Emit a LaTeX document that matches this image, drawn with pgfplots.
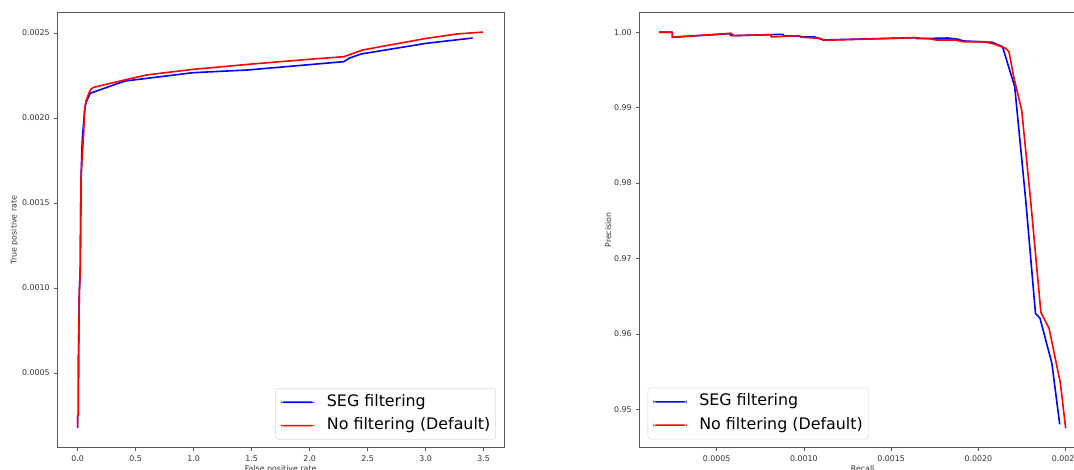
\documentclass[border=0pt]{standalone}
\usepackage{pgfplots}
\pgfplotsset{compat=1.18}
\usepackage{fontspec}
\setmainfont{DejaVu Sans}

% ROC curve: false positive rate vs. true positive rate
\pgfplotstableread{
fpr       tpr
0         0.000179
0         0.000245
6e-8      0.000255
8e-8      0.000600
1.5e-7    0.000980
2.3e-7    0.001106
2.9e-7    0.001636
3.8e-7    0.001832
4.3e-7    0.001900
6.4e-7    0.002067
7.5e-7    0.002096
1.09e-6   0.002146
3.53e-6   0.002205
4.1e-6    0.002218
9.93e-6   0.002267
1.467e-5  0.002283
2.295e-5  0.002332
2.34e-5   0.002352
2.443e-5  0.002377
3.006e-5  0.002440
3.405e-5  0.002471
}\rocseg
\pgfplotstableread{
fpr       tpr
0         0.000179
0         0.000245
6e-8      0.000255
8e-8      0.000600
1.5e-7    0.000980
2.3e-7    0.001106
2.9e-7    0.001636
3.8e-7    0.001754
5.2e-7    0.001911
6.0e-7    0.002048
7.5e-7    0.002106
1.03e-6   0.002155
1.15e-6   0.002169
1.38e-6   0.002181
3.67e-6   0.002218
5.97e-6   0.002254
1.0e-5    0.002287
1.5e-5    0.002318
2.0e-5    0.002346
2.295e-5  0.002361
2.458e-5  0.002401
3.006e-5  0.002469
3.272e-5  0.002495
3.494e-5  0.002506
}\rocnofilter

% Precision-recall curve
\pgfplotstableread{
rec       prec
0.000170  1.00000
0.000246  1.00000
0.000246  0.99934
0.000573  0.99981
0.000583  0.99955
0.000880  0.99973
0.000886  0.99951
0.000970  0.99951
0.000984  0.99938
0.001062  0.99938
0.001110  0.99898
0.001639  0.99928
0.001649  0.99915
0.001824  0.99924
0.001883  0.99907
0.001913  0.99885
0.002079  0.99867
0.002138  0.99809
0.002208  0.99279
0.002271  0.97776
0.002327  0.96273
0.002353  0.96207
0.002421  0.95610
0.002466  0.94801
}\prseg
\pgfplotstableread{
rec       prec
0.000170  1.00000
0.000246  1.00000
0.000246  0.99934
0.000583  0.99987
0.000599  0.99955
0.000808  0.99968
0.000813  0.99938
0.000974  0.99955
0.000984  0.99934
0.001091  0.99920
0.001121  0.99894
0.001639  0.99928
0.001727  0.99911
0.001756  0.99898
0.001864  0.99898
0.001913  0.99875
0.002030  0.99875
0.002089  0.99845
0.002156  0.99788
0.002175  0.99743
0.002204  0.99390
0.002248  0.98969
0.002299  0.97776
0.002358  0.96286
0.002405  0.96074
0.002470  0.95345
0.002500  0.94748
}\prnofilter

\newcommand\smallfont{\fontsize{5.9}{7}\selectfont}

\pgfplotsset{
  panel/.style={
    scale only axis, width=335pt, height=326.55pt, anchor=south west,
    axis line style={draw=black!65, line width=0.6pt},
    tick align=outside, tick pos=left, major tick length=2.2pt,
    tick style={draw=black!65, line width=0.5pt},
    tick label style={font=\smallfont, text=black!80},
    /pgf/number format/assume math mode=true,
    legend cell align=left,
    legend style={draw=black!15, rounded corners=2pt, fill=white,
      font=\fontsize{11.9}{14}\selectfont, inner xsep=4pt, inner ysep=4.4pt,
      row sep=5.5pt, column sep=9.5pt,
      nodes={inner sep=0pt, text height=9pt, text depth=3pt},
      cells={anchor=west}},
  },
  % legend samples: short bars in the series colour
  seg key/.style={legend image code/.code={\fill[blue, draw=none] (0pt,-0.6pt) rectangle (25pt,0.6pt);}},
  def key/.style={legend image code/.code={\fill[red, draw=none] (0pt,-0.6pt) rectangle (25pt,0.6pt);}},
}

\begin{document}
\begin{tikzpicture}
\useasboundingbox (0,0) rectangle (805.5pt,351.75pt);
\clip (0,0) rectangle (805.5pt,351.75pt);

\begin{axis}[panel, at={(42.98pt,15.98pt)},
  xmin=-0.175e-5, xmax=3.675e-5, ymin=0.0000606, ymax=0.0026224,
  xtick={0,0.5e-5,1e-5,1.5e-5,2e-5,2.5e-5,3e-5,3.5e-5},
  xticklabels={0.0,0.5,1.0,1.5,2.0,2.5,3.0,3.5},
  scaled x ticks=false,
  ytick={0.0005,0.001,0.0015,0.002,0.0025}, scaled y ticks=false,
  yticklabel style={/pgf/number format/fixed, /pgf/number format/fixed zerofill, /pgf/number format/precision=4},
  xlabel={False positive rate}, ylabel={True positive rate},
  every axis x label/.style={at={([yshift=-13.3pt]axis description cs:0.5,0)}, anchor=north, inner sep=0pt, font=\smallfont, text=black!80},
  every axis y label/.style={at={([xshift=-32.1pt]axis description cs:0,0.5)}, anchor=center, rotate=90, inner sep=0pt, font=\smallfont, text=black!80},
  legend style={at={([xshift=-6pt,yshift=6pt]axis description cs:1,0)}, anchor=south east},
]
\addplot[blue, line width=1.2pt, line join=round, seg key] table[x=fpr, y=tpr] {\rocseg};
\addlegendentry{SEG filtering}
\addplot[red, line width=1.2pt, line join=round, def key] table[x=fpr, y=tpr] {\rocnofilter};
\addlegendentry{No filtering (Default)}
% offset of the x tick values
\node[anchor=north east, inner sep=0pt, font=\smallfont, text=black!80]
  at ([yshift=-12.4pt]rel axis cs:1,0) {1e−5};
\end{axis}

\begin{axis}[panel, at={(479.48pt,15.98pt)},
  xmin=0.0000564, xmax=0.0026165, ymin=0.94491, ymax=1.00265,
  xtick={0.0005,0.001,0.0015,0.002,0.0025}, scaled x ticks=false,
  xticklabel style={/pgf/number format/fixed, /pgf/number format/fixed zerofill, /pgf/number format/precision=4},
  ytick={0.95,0.96,0.97,0.98,0.99,1.00}, scaled y ticks=false,
  yticklabel style={/pgf/number format/fixed, /pgf/number format/fixed zerofill, /pgf/number format/precision=2},
  xlabel={Recall}, ylabel={Precision},
  every axis x label/.style={at={([yshift=-13.3pt]axis description cs:0.5,0)}, anchor=north, inner sep=0pt, font=\smallfont, text=black!80},
  every axis y label/.style={at={([xshift=-23.25pt]axis description cs:0,0.5)}, anchor=center, rotate=90, inner sep=0pt, font=\smallfont, text=black!80},
  legend style={at={([xshift=6.3pt,yshift=6.3pt]axis description cs:0,0)}, anchor=south west},
]
\addplot[blue, line width=1.2pt, line join=round, seg key] table[x=rec, y=prec] {\prseg};
\addlegendentry{SEG filtering}
\addplot[red, line width=1.2pt, line join=round, def key] table[x=rec, y=prec] {\prnofilter};
\addlegendentry{No filtering (Default)}
\end{axis}
\end{tikzpicture}
\end{document}
